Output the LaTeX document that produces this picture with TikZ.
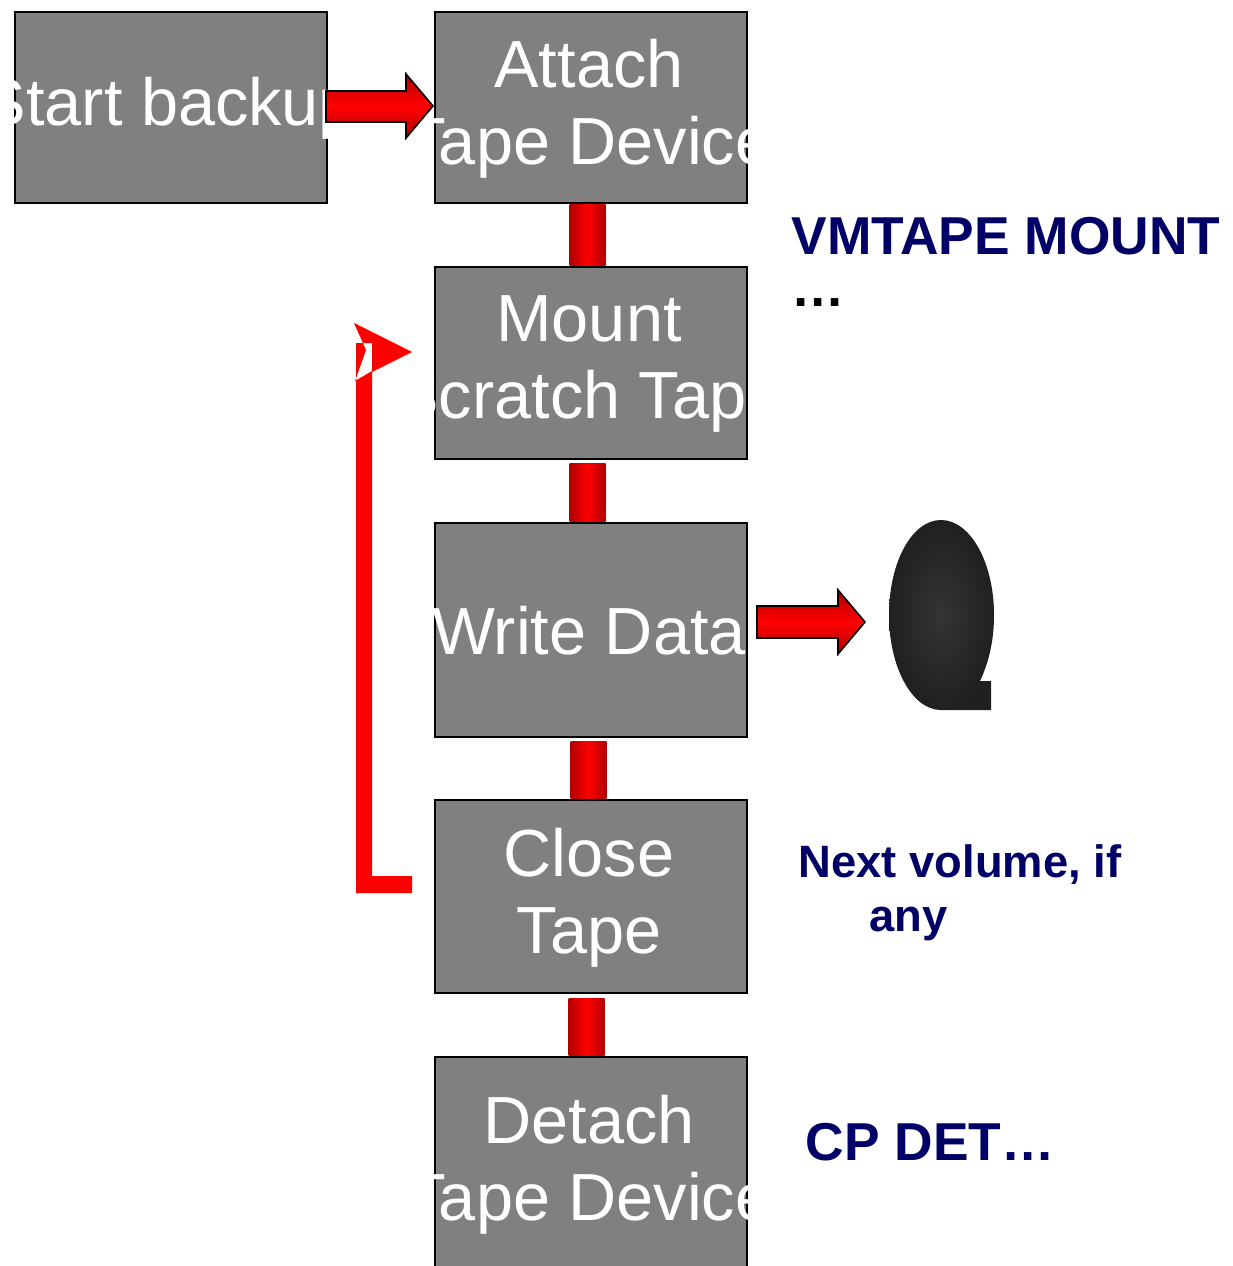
\documentclass[tikz,border=0pt]{standalone}
\usepackage{fontspec}
\setmainfont{Liberation Sans}
\usetikzlibrary{calc}
\definecolor{boxgray}{RGB}{128,128,128}
\definecolor{labelblue}{RGB}{0,0,102}
\definecolor{barred}{RGB}{255,0,0}
\definecolor{bardark}{RGB}{100,0,0}
\definecolor{tapedark}{RGB}{32,32,32}
\definecolor{tapelight}{RGB}{52,52,52}
\pgfdeclareverticalshading{barh}{100bp}{color(0bp)=(bardark); color(50bp)=(barred); color(100bp)=(bardark)}
\pgfdeclarehorizontalshading{barv}{100bp}{color(0bp)=(bardark); color(50bp)=(barred); color(100bp)=(bardark)}
\tikzset{
    stepbox/.style={draw=black, line width=1.5pt, fill=boxgray, minimum width=234pt, inner sep=0pt, anchor=north west},
    steptext/.style={text=white, font=\fontsize{50}{58}\selectfont, align=center},
    bluelabel/.style={text=labelblue, font=\bfseries, align=left, anchor=west},
    barlink/.style={shading=barv, shading angle=0},
    fatarrow/.style={draw=black, line width=1.2pt, shading=barh}
}
\begin{document}
\begin{tikzpicture}[x=0.75pt,y=-0.75pt]
    \useasboundingbox (0,0) rectangle (1232,1266);

    % Boxes
    \foreach \name/\ytop/\ybot in {attach/11/202,mount/266/458,write/522/736,close/799/992,detach/1056/1300} {
        \node[stepbox, minimum height=(\ybot-\ytop)*0.75pt] (\name) at (433.5,\ytop) {};
    }
    \node[stepbox, minimum height=191*0.75pt] (start) at (13.5,11) {};

    % Box texts
    \begin{scope}
        \clip (5,0) rectangle (331,202);
        \node[steptext] (starttext) at (169,108) {Start backup};
    \end{scope}
    \begin{scope}
        \clip (425,0) rectangle (751,1266);
        \node[steptext] (attachtext) at (589,109) {Attach\\Tape Device};
        \node[steptext] (mounttext) at (589,364) {Mount\\Scratch Tape};
        \node[steptext] (writetext) at (589,631) {Write Data};
        \node[steptext] (closetext) at (589,898) {Close\\Tape};
        \node[steptext] (detachtext) at (589,1165) {Detach\\Tape Device};
    \end{scope}

    % Links between boxes
    \shade[barlink] ($(attach.south)+(-21,1)$) rectangle ($(mount.north)+(15,-1)$);
    \shade[barlink] ($(mount.south)+(-21,3)$) rectangle ($(write.north)+(15,-1)$);
    \shade[barlink] ($(write.south)+(-20,3)$) rectangle ($(close.north)+(16,-1)$);
    \shade[barlink] ($(close.south)+(-22,4)$) rectangle ($(detach.north)+(14,-1)$);

    % Block arrows
    \draw[fatarrow] (326,91) -- (406,91) -- (406,74) -- (433,106) -- (406,138) -- (406,122) -- (326,122) -- cycle;
    \draw[fatarrow] (757,606) -- (838,606) -- (838,590) -- (865,622) -- (838,654) -- (838,638) -- (757,638) -- cycle;

    % Loop back
    \coordinate (loopend) at (412,885);
    \fill[red] (412,876) -- (372,876) -- (372,371) -- (355,381) -- (366,350) -- (354,323) -- (412,352) -- (372,372) -- (372,343) -- (356,343) -- (356,893) -- (412,893) -- cycle;

    % Tape reel
    \path[shading=radial, inner color=tapelight, outer color=tapedark]
        (941,520) .. controls (970,520) and (994,562) .. (994,615)
        .. controls (994,640) and (989,662) .. (980,681) -- (991,681) -- (991,710) -- (941,710)
        .. controls (912,710) and (889,667) .. (889,615)
        .. controls (889,562) and (912,520) .. (941,520) -- cycle;

    % Labels
    \node[bluelabel, font=\fontsize{40}{46}\bfseries\selectfont] (mountlabel) at (787,236) {VMTAPE MOUNT};
    \node[anchor=west, font=\fontsize{40}{46}\bfseries\selectfont] (dots) at (787,303) {…};
    \node[bluelabel, font=\fontsize{34}{45}\bfseries\selectfont] (nextlabel) at (794,865) {Next volume, if};
    \node[bluelabel, font=\fontsize{34}{45}\bfseries\selectfont] (anylabel) at (865,924) {any};
    \node[bluelabel, font=\fontsize{40}{46}\bfseries\selectfont] (detlabel) at (801,1142) {CP DET…};
\end{tikzpicture}
\end{document}
